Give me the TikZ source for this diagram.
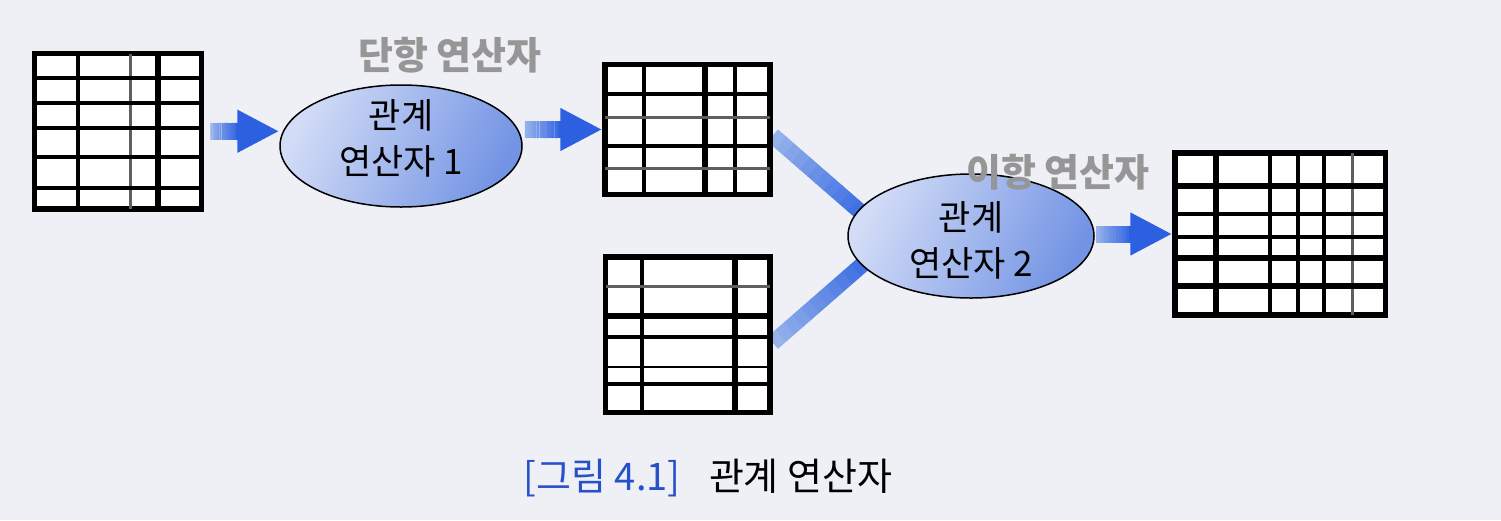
\documentclass[tikz,border=0pt]{standalone}
\usepackage{fontspec}
\setmainfont{Noto Sans CJK KR}
\usetikzlibrary{shapes.geometric,arrows.meta,calc}
\definecolor{bgc}{RGB}{238,240,246}
\definecolor{shaftlight}{RGB}{150,178,235}
\definecolor{shaftdark}{RGB}{55,105,225}
\definecolor{headblue}{RGB}{45,95,225}
\definecolor{ellight}{RGB}{210,220,246}
\definecolor{eldark}{RGB}{115,148,228}
\definecolor{handgray}{RGB}{150,150,150}
\definecolor{capblue}{RGB}{40,80,200}
\definecolor{midgray}{RGB}{95,95,95}
\pgfdeclarelayer{back}
\pgfsetlayers{back,main}
\newcommand\gradline[3]{%
  \foreach \i in {0,...,11}{%
    \pgfmathsetmacro\pa{\i/12}%
    \pgfmathsetmacro\pb{(\i+1)/12+0.004}%
    \pgfmathtruncatemacro\pc{100-\i*100/11}%
    \draw[line width=#3, color=shaftlight!\pc!shaftdark] ($(#1)!\pa!(#2)$) -- ($(#1)!\pb!(#2)$);
  }}
\newcommand\fatarrow[2]{%
  \coordinate (hb) at ($(#2)+(-42,0)$);
  \gradline{#1}{hb}{17pt}
  \draw[line width=17pt, headblue, -{Triangle[length=42pt,width=40pt]}] ($(hb)+(-1,0)$) -- (#2);
}
\tikzset{
  tbl/.style={draw=black, line width=5.5pt, inner sep=0pt, fill=white},
  oper/.style={ellipse, draw=black, line width=1.5pt, inner sep=0pt,
    shading=axis, top color=ellight, bottom color=eldark, shading angle=65},
  optext/.style={font=\fontsize{35pt}{46pt}\selectfont, align=center, inner sep=0pt},
  hand/.style={text=handgray, font=\fontsize{38pt}{44pt}\selectfont\bfseries},
  caption/.style={font=\fontsize{38pt}{44pt}\selectfont}
}
\begin{document}
\begin{tikzpicture}[x=1pt,y=-1pt]
\begin{pgfonlayer}{back}
\fill[bgc] (0,0) rectangle (1501,520);
\end{pgfonlayer}
\useasboundingbox (0,0) rectangle (1501,520);

% tables
\node[tbl, minimum width=167pt, minimum height=155.5pt] (t1) at (118,131.25) {};
\node[tbl, minimum width=165pt, minimum height=130pt] (t2) at (687.5,129.5) {};
\node[tbl, minimum width=164.5pt, minimum height=155.5pt] (t3) at (687.75,334.75) {};
\node[tbl, minimum width=210.5pt, minimum height=162pt] (t4) at (1280.25,234) {};

% table 1 inner lines
\foreach \x/\w/\c in {78/3.2/black,130/3/midgray,158/5.5/black}
  \draw[line width=\w pt, \c] (\x,53.5) -- (\x,209);
\foreach \y/\w/\c in {78/3.2/black,103/3.2/black,128/3.2/black,157/3.2/black,188/3.2/black}
  \draw[line width=\w pt, \c] (34.5,\y) -- (201.5,\y);
% table 2
\foreach \x/\w/\c in {644/3.2/black,705/5.5/black,735/4.5/black}
  \draw[line width=\w pt, \c] (\x,64.5) -- (\x,194.5);
\foreach \y/\w/\c in {94/3.2/black,117/3/midgray,146/3.2/black,168/3/midgray}
  \draw[line width=\w pt, \c] (605,\y) -- (770,\y);
% table 3
\foreach \x/\w/\c in {642/3.2/black,735/5.5/black}
  \draw[line width=\w pt, \c] (\x,257) -- (\x,412.5);
\foreach \y/\w/\c in {286/3/midgray,316/5.5/black,337/4.5/black,367/2.8/black,384/3.2/black}
  \draw[line width=\w pt, \c] (605.5,\y) -- (770,\y);
% table 4
\foreach \x/\w/\c in {1216/5.5/black,1270/3.5/black,1298/3.2/black,1324/3.5/black,1352/3/midgray}
  \draw[line width=\w pt, \c] (\x,153) -- (\x,315);
\foreach \y/\w/\c in {186/5.5/black,214/3.5/black,237/3.5/black,258/5.5/black,286/5.5/black}
  \draw[line width=\w pt, \c] (1175,\y) -- (1385.5,\y);

% operators
\node[oper, minimum width=242pt, minimum height=122pt,
  label={[optext, yshift=8pt]center:{관계\\연산자 1}}] (e1) at (401,146) {};
\node[oper, minimum width=246pt, minimum height=124pt,
  label={[optext, yshift=-4pt]center:{관계\\연산자 2}}] (e2) at (971,236) {};

% connectors into operator 2 (behind the ellipse)
\begin{pgfonlayer}{back}
\coordinate (ua) at ($(t2.east)+(0,6)$);
\coordinate (ub) at ($(ua)!1.12!(e2.167)$);
\gradline{ua}{ub}{16pt}
\coordinate (la) at ($(t3.east)+(0,8)$);
\coordinate (lb) at ($(la)!1.12!(e2.195)$);
\gradline{la}{lb}{16pt}
\end{pgfonlayer}

% fat arrows
\coordinate (a1s) at ($(t1.east)+(6,0)$);
\coordinate (a1e) at (t1.east -| e1.west);
\fatarrow{a1s}{a1e}
\coordinate (a2s) at ($(e1.east |- t2.west)+(2,0)$);
\fatarrow{a2s}{t2.west}
\coordinate (a3s) at ($(e2.east |- t4.west)+(1,0)$);
\fatarrow{a3s}{t4.west}

% handwritten labels
\node[hand] (h1) at (450,55) {단항 연산자};
\node[hand] (h2) at (1058,172) {이항 연산자};

% caption
\node[caption] (cap) at (708,478) {{\color{capblue}[그림 4.1]}\hspace{0.75em}관계 연산자};
\end{tikzpicture}
\end{document}
